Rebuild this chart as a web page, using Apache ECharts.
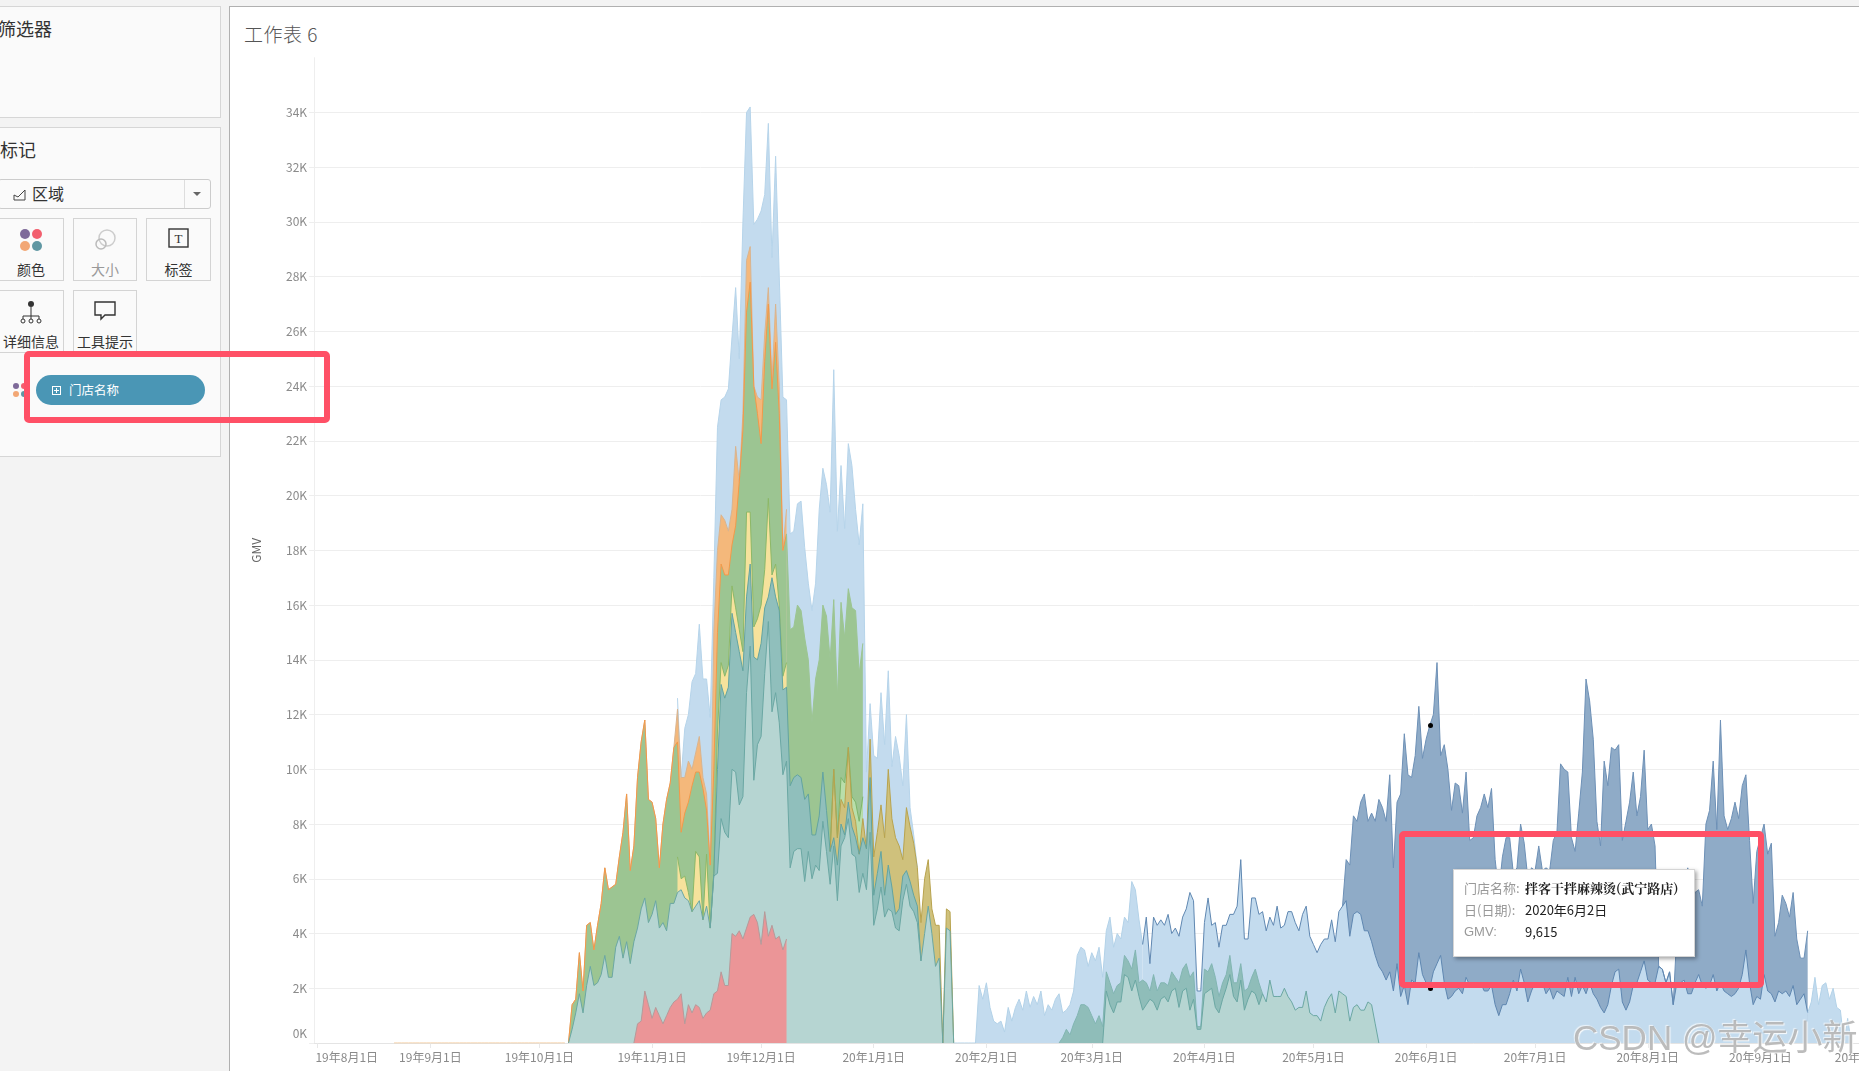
<!DOCTYPE html>
<html>
<head>
<meta charset="utf-8">
<title>工作表 6</title>
<script src="https://cdn.jsdelivr.net/npm/echarts@6/dist/echarts.min.js"></script>
<style>
html,body{margin:0;padding:0;width:1859px;height:1071px;overflow:hidden;background:#f3f3f3;font-family:"Noto Sans CJK SC","Noto Sans",sans-serif;color:#333}
.abs{position:absolute;box-sizing:border-box}
.panel{background:#fafafa;border:1px solid #d6d6d6;border-left:none}
.card{background:#fafafa;border:1px solid #d4d4d4;text-align:center;font-size:14px;color:#333}
.card span{position:absolute;left:-4px;right:-4px;bottom:2px;line-height:18px;white-space:nowrap}
.card svg{position:absolute;left:50%;top:9px;transform:translateX(-50%)}
#chart{position:absolute;left:0;top:0;width:1859px;height:1071px}
.red{border:6px solid #ff5066;border-radius:5px;z-index:5}
.tip{background:#fff;border:1px solid #d5d5d5;box-shadow:2px 2px 4px rgba(0,0,0,.35);z-index:4;font-size:13px}
.tip div{position:absolute;white-space:nowrap;line-height:16px}
.lb{color:#999;left:10px}.vl{color:#222;left:71px}
.dot{width:5px;height:5px;border-radius:50%;background:#000;z-index:3}
#wm{left:1573px;top:1016px;font-size:35px;line-height:44px;color:rgba(165,165,165,.75);text-shadow:1px 1px 1px rgba(255,255,255,.9),-1px -1px 1px rgba(255,255,255,.7);white-space:nowrap;z-index:6;font-family:"Liberation Sans","Noto Sans CJK SC",sans-serif}
</style>
</head>
<body>
<div class="abs panel" style="left:0;top:6px;width:221px;height:112px"></div>
<div class="abs" style="left:-2px;top:15px;font-size:18px">筛选器</div>
<div class="abs panel" style="left:0;top:127px;width:221px;height:330px"></div>
<div class="abs" style="left:0;top:136px;font-size:18px">标记</div>
<div class="abs" style="left:-2px;top:179px;width:213px;height:30px;border:1px solid #ccc;border-radius:3px;background:#fafafa"></div>
<div class="abs" style="left:184px;top:180px;width:1px;height:28px;background:#ddd"></div>
<div class="abs" style="left:193px;top:192px;width:0;height:0;border-left:4px solid transparent;border-right:4px solid transparent;border-top:4px solid #666"></div>
<svg class="abs" style="left:13px;top:188px" width="14" height="13"><path d="M1 12V7l4 2 7-7v10z" fill="none" stroke="#444"/></svg>
<div class="abs" style="left:32px;top:181px;font-size:16px;color:#333">区域</div>

<div class="abs card" style="left:-2px;top:218px;width:66px;height:63px"><svg width="24" height="24"><circle cx="6" cy="6" r="5" fill="#7e6a99"/><circle cx="18" cy="6" r="5" fill="#f25f6e"/><circle cx="6" cy="18" r="5" fill="#f2a775"/><circle cx="18" cy="18" r="5" fill="#5f97a3"/></svg><span>颜色</span></div>
<div class="abs card" style="left:73px;top:218px;width:64px;height:63px;color:#999"><svg width="24" height="24"><circle cx="14" cy="10" r="8" fill="none" stroke="#ccc" stroke-width="1.5"/><circle cx="8" cy="16" r="5" fill="none" stroke="#bbb" stroke-width="1.5"/></svg><span>大小</span></div>
<div class="abs card" style="left:146px;top:218px;width:65px;height:63px"><svg width="22" height="22"><rect x="1" y="1" width="19" height="18" fill="none" stroke="#333" stroke-width="1.4"/><text x="10.5" y="15" font-size="13" text-anchor="middle" fill="#333" font-family="Liberation Serif">T</text></svg><span>标签</span></div>
<div class="abs card" style="left:-2px;top:290px;width:66px;height:63px"><svg width="22" height="24"><circle cx="11" cy="4" r="3" fill="#333"/><path d="M11 7v8M3 19v-3h16v3M11 15v4" fill="none" stroke="#333"/><circle cx="3" cy="21" r="2" fill="none" stroke="#333"/><circle cx="11" cy="21" r="2" fill="none" stroke="#333"/><circle cx="19" cy="21" r="2" fill="none" stroke="#333"/></svg><span>详细信息</span></div>
<div class="abs card" style="left:73px;top:290px;width:64px;height:63px"><svg width="22" height="22"><path d="M1 2h20v13H11l-4 4v-4H1z" fill="none" stroke="#333" stroke-width="1.4"/></svg><span>工具提示</span></div>
<svg class="abs" style="left:12px;top:382px" width="16" height="16"><circle cx="4" cy="4" r="3" fill="#7e6a99"/><circle cx="12" cy="4" r="3" fill="#f25f6e"/><circle cx="4" cy="12" r="3" fill="#f2a775"/><circle cx="12" cy="12" r="3" fill="#5f97a3"/></svg>

<div class="abs" style="left:229px;top:6px;width:1640px;height:1070px;background:#fff;border-left:1.5px solid #b0b0b0;border-top:1.5px solid #b0b0b0"></div>
<div class="abs" style="left:244px;top:20px;font-size:19px;letter-spacing:.5px;color:#555;font-weight:300">工作表 6</div>

<div id="chart"></div>

<div class="abs" style="left:36px;top:375px;width:169px;height:30px;border-radius:15px;background:#4a96b5;color:#fff;font-size:12.5px;line-height:29px;padding-left:33px;z-index:2">门店名称
  <svg style="position:absolute;left:16px;top:11px" width="9" height="9"><rect x=".5" y=".5" width="8" height="8" fill="none" stroke="#fff"/><path d="M4.5 2v5M2 4.5h5" stroke="#fff"/></svg></div>
<div class="abs red" style="left:24px;top:351px;width:306px;height:72px"></div>

<div class="abs dot" style="left:1427.5px;top:722.5px"></div>
<div class="abs dot" style="left:1427.5px;top:985.5px"></div>
<div class="abs tip" style="left:1453px;top:869px;width:242px;height:88px">
  <div class="lb" style="top:10px">门店名称:</div><div class="vl" style="top:10px;left:71px;font-weight:bold;font-family:'Noto Serif CJK SC','Noto Sans CJK SC'">拌客干拌麻辣烫(武宁路店)</div>
  <div class="lb" style="top:32px">日(日期):</div><div class="vl" style="top:32px">2020年6月2日</div>
  <div class="lb" style="top:54px;font-family:'Liberation Sans'">GMV:</div><div class="vl" style="top:54px">9,615</div>
</div>
<div class="abs red" style="left:1399px;top:831px;width:365px;height:157px"></div>
<div class="abs" id="wm">CSDN @幸运小新</div>

<script>
// ---------- axis ----------
const firstDay = '2019-07-31';
const dayCount = 442;
const yTicks = [0,2,4,6,8,10,12,14,16,18,20,22,24,26,28,30,32,34];

// ---------- series values (GMV in thousands), daily, each from its start day (0 = 2019-08-01) ----------
const zeroStart = 21;
const zeroLine = [0,0,0,0,0,0,0,0,0,0,0,0,0,0,0,0,0,0,0,0,0,0,0,0,0,0,0,0,0,0,0,0,0,0,0,0,0,0,0,0,0,0,0,0,0,0,0,0];

const blueAStart = 99;
const blueA = [12.6,9.7,11.5,12,13.2,13.5,15.3,13.3,13.3,11.9,17,22.5,23.5,23.6,23.9,25.8,27.6,25,30,34,34.2,29.9,30.1,30.4,31,33.6,28.7,32.4,28,23.6,23.5,18.6,18.7,19.7,19.8,18.1,16.8,15.8,16.8,19.5,21,20.4,19.4,24.6,18.7,21.1,18.8,21.9,21.1,19.5,18.2,19.7,9.9,12.4,10.5,10.4,12.8,10.9,13.6,10.1,11.2,10.5,9.4,12,8.6,7.6,6.4];

const orangeStart = 69;
const orange = [0,1.4,1.6,3.3,1.9,4.3,4.4,3.4,4.3,5.1,6.4,5.6,5.7,5.8,6.8,7.7,9.1,6.3,7.2,9.7,11,11.8,8.9,8.8,8.2,6.4,8,8.9,9.5,10.8,12.2,9.7,9.7,10.3,10,10.6,11.2,9.7,9.1,6.5,15,18,19.3,19.1,18.7,19.5,21.8,20.5,23,28.6,29.1,24,23.6,23.5,25.9,27.6,24.2,27,24,18,19.5];

const greenAStart = 69;
const greenA = [0,1.4,1.6,3.3,1.9,4.3,4.4,3.4,4.3,5.1,6.4,5.6,5.7,5.8,6.8,7.7,9.1,6.3,7.2,9.7,11,11.8,8.9,8.8,8.2,6.4,8,8.9,9.5,10.8,11,7.7,8.4,8.8,9.4,9.9,9.9,9.3,8.5,6.5,10,15,17.5,17.1,17.1,18.2,18.9,20.5,22.4,26.7,27.8,24,23,21.9,24.9,27,23.9,25.6,23,18,18.6];
const greenBStart = 129;
const greenB = [18.6,15.1,15.2,16,15.8,14.8,14,11.7,13.3,14,16,15.6,14,16.2,12.6,16.1,14.8,16.6,15.9,15.8,13.5,14.6];

const paleGreenStart = 141;
const paleGreen = [7,10,7.5,9.7,9.5,10.8,9,8.8,8.1,9];

const goldStart = 141;
const gold = [7,10,7.5,8.9,8.6,10.8,8.6,8.1,6.9,8.2,7.1,11.1,6.8,7.7,8.7,7.5,10,8.2,7.5,7.2,6.7,8.6,7.9,7.3,6.4,4.4,6,6.7,4.9,4.3,4.3,0,4.9,4.8,0];

const yellowStart = 99;
const yellow = [6.8,6,6.1,5.5,4.8,7,6.8,4.5,6.9,4.2,6.2,11.4,13.9,13.4,13.8,16.7,15.9,15.1,14.3,19.4,19.4,15.2,15.5,16,17.3,19.9,17.1,17.5,16,13.4,13.9];

const tealStart = 108;
const teal = [4.2,6.2,10,13.1,12.6,13,15.7,15,14.3,13.6,16.3,17.5,14.1,14,14.6,15.9,16.3,17,16.3,15.8,12.9,13,9.4,9.7,9.8,9.7,8.9,9.1,7.6,7.6,8.3,9.9,8.5,7,7.5,6.5,8,7.6,8.8,7.9,7.5,6.9,7.5,7.1,9.7,5.4,6.2,7,5.4,6.5,5.7,4.7,4.9,6.1,6.3,5.9,5.4,5,3];

const paleTealStart = 69;
const paleTeal = [0,.5,1.1,1.8,1.1,2.1,2.8,2.1,2.2,2.5,3.2,2.4,2.4,3.5,3.9,3.1,3.7,2.9,3.7,4.2,4.9,5.3,4.4,4.7,5.2,4.2,4.4,4.1,5.1,5.1,5.5,5.6,5.3,5.2,4.8,5,5.2,4.5,5,4.2,6.1,6.2,8.2,7.7,7.5,10,9.9,8.7,9,12.8,14.5,9.6,10.9,11.2,13.5,15.4,12.1,12.8,11.7,9.8,10.3,6.4,7,7.1,7.1,5.9,7,6,6.5,6.3,8.1,7,5.8,7.2,5.2,7.2,7.5,8.2,6.9,6.8,5.5,6.2,5.6,7.7,4.3,4.9,5.7,4.6,4.9,4.8,4.2,4.1,5.2,5.8,5,4.8,4.4,3,4,5,4,2.8,3.1,0,4.2,4.1,0];

const redStart = 87;
const red = [0,.7,.8,1.9,1.4,.9,1.3,1,.7,1,1.3,1.5,1.6,1.8,.7,1.4,1.1,1.4,1.3,.9,1.1,1.2,1.8,1.9,2.6,2.1,2.1,4,3.9,4.1,3.8,4.2,4.6,4.7,4.4,3.6,4.8,3.9,4.3,3.8,3.9,3.4,3.8];

const steelStart = 282;
const steel = [5,6.7,6.5,8.3,8.1,8.8,9.1,8.1,8.4,8.1,8.9,8.6,8.1,9.8,6.4,8.8,9.1,11.3,9.8,9.7,10.5,12.3,10.4,11.1,11.6,12,13.9,10.5,10.9,10,8.5,9.5,9.4,8.4,9.9,7.4,7.5,8.3,8.6,9.1,8.6,9.3,6.7,5.5,6.8,7.5,7.5,6.2,6.4,8,7.3,6,6.4,6.3,7.2,6.3,6.4,6.3,7.4,7.7,10.2,10,9.9,7.5,7,8.4,9.9,13.3,12.5,11.1,8.1,7.2,10.3,9.4,10.8,10.7,10.9,7.4,8.1,8.8,9.9,8.3,9,10.7,7.8,8,7.2,2.8,2.7,2.2,2.6,1.4,4,4.5,5,6.4,5,5.5,5.6,5,8,8.5,10.3,7.8,11.8,8.3,7.8,8.2,8.8,8.2,9.4,9.8,7.4,5.1,7,7.5,8,6.9,7.3,3.9,4.4,5.4,5.1,4.6,5.5,3.8,3.1,3.1,4.1];

const blueBStart = 175;
const blueB = [0,0,0,0,0,0,0,2.1,1.6,2.2,1.3,.8,.7,.8,.4,1.3,.8,1.3,1.6,1.2,1.9,1.3,1.7,1.4,1.9,1,1.4,1.2,1.6,1.8,1.1,1.2,1.4,1.9,3.2,3.5,3.4,2.8,3.3,3,3.5,2.4,4.1,4.6,3.5,4,3.8,4.6,4.4,5.9,5.6,4.5,3.6];

const blueCStart = 227;
const blueC = [3.6,4.6,2.9,4.6,4.3,4.5,4.3,4.7,4,4.2,3.9,4.6,4.9,5.5,5.2,1.9,1.9,4.4,5.3,4.3,4.4,3.5,4.3,4.3,4.7,4.7,5,6.7,3.8,3.8,5.3,5.3,4.7,4.8,4.1,4.6,4.3,5,4.2,4.3,4.8,4.8,4.4,4.1,4.7,5,3.9,3.6,3.3,3.6,3.8,3.8,4.5,3.7,4.8,5,5.2,3.9,4.7,4.8,4.7,4.1,4.1,3.7,3.2,2.8,2.6,2.3,2.6,1.9,2.9,1.7,2.1,1.4,2.3,2.2,
3.3,2.5,2.2,2,2.6,2.9,3.2,2.2,1.6,1.7,1.9,2,1.8,2.4,2.1,2.2,2.2,2.2,1.9,1.9,2.1,1.4,1,1.4,1.4,1.8,2.3,1.9,2.7,2.2,1.5,1.9,2.2,2.2,2.2,1.8,2,1.6,1.9,1.8,1.7,2.4,1.7,2.4,1.8,2.1,1.8,2.2,1.8,1.6,1.3,1.1,1.4,2.1,2.6,2.7,1.5,1.2,1.5,2.1,2.2,2.6,3,2.3,2.2,2.2,2.8,2.7,2.2,2.6,1.4,2.2,2.2,2.3,1.8,1.8,2.2,2.5,2.1,2,2.1,2.5,1.9,2.2,1.9,1.8,1.7,1.8,2,2.5,3.4,2.2,1.4,1.7,1.6,2.5,1.9,1.8,1.5,1.9,1.8,1.9,1.7,2.1,1.4,1.6,1.8,1.1];

const blueDStart = 410;
const blueD = [1.1,1.5,2.4,1.4,2.1,2.2,1.6,2,1.3,1.2,0,.9,0];

const sageStart = 204;
const sage = [0,.2,.5,.3,.7,1,1.4,1.4,1.3,1,.7,1,.6,2.6,2.2,1.8,2.1,2.2,3.2,3,2.7,3.4,2.2,2.3,2.2,1.9,2.5,1.9,2.2,2.2,2.1,2.6,2.4,2.2,2.7,2.9,2.4,2.6,.6,.6,2.7,2.6,2.9,2.4,1.7,2.2,2.5,3.2,2.2,2.2,2.9,1.9,2,2.4,2.7,2.2,1.8];

const mintStart = 216;
const mint = [0,1.9,1.4,1.1,1.5,1.5,2.5,2.4,1.9,2.3,1.7,1.2,1.4,1.6,1.5,1.2,1.6,1.7,1.5,1.9,2,1.3,1.9,2,1.2,1.6,.5,.5,1.8,1.9,2,1.3,1.1,1.6,2,2.5,1.7,1.5,2.3,1.2,1.6,1.9,1.8,1.4,1.8,1.5,2.3,1.7,1.7,1.7,2,1.7,1.5,1.2,1.3,1.3,1.9,1.1,1,1,.8,1.3,1.6,1.8,1.1,1.9,1.8,1.7,.8,1.3,1.4,1.2,1.2,1.5,1.4,.7,0];

// ---------- build ----------
const categories = [];
(function(){
  const t0 = Date.UTC(2019,6,31);
  for (let i=0;i<dayCount;i++) categories.push(new Date(t0+i*864e5));
})();
const isMonthStart = i => categories[i].getUTCDate()===1;
const labelOf = d => (d.getUTCFullYear()%100)+'年'+(d.getUTCMonth()+1)+'月'+d.getUTCDate()+'日';

function place(start, values){
  const out = new Array(dayCount).fill(null);
  values.forEach((v,i)=>{ out[start+1+i]=v; });
  return out;
}
function area(name,start,values,fill,line,lw){
  return {name,type:'line',data:place(start,values),symbol:'none',silent:true,animation:false,
    connectNulls:false,showSymbol:false,smooth:false,
    lineStyle:{color:line||fill,width:lw===undefined?1:lw},
    itemStyle:{color:fill},
    areaStyle:{color:fill,opacity:1}};
}

const chart = echarts.init(document.getElementById('chart'),null,{renderer:'canvas'});
chart.setOption({
  backgroundColor:'transparent',
  animation:false,
  tooltip:{show:false},
  grid:{left:314.1,top:57.7,width:3.634*(dayCount-1),height:985.3,containLabel:false,outerBoundsMode:'none'},
  xAxis:{type:'category',boundaryGap:false,data:categories.map(labelOf),
    axisLine:{show:true,lineStyle:{color:'#e4e4e4'}},
    axisTick:{show:true,length:5,lineStyle:{color:'#e8e8e8'},interval:(i)=>isMonthStart(i)},
    splitLine:{show:false},
    axisLabel:{interval:(i)=>isMonthStart(i),color:'#8a8a8a',fontSize:12,margin:8,
      fontFamily:'"Noto Sans CJK SC",sans-serif',hideOverlap:false,
      formatter:(v,i)=> i<=1 ? '{first|'+v+'}' : v,
      rich:{first:{padding:[0,0,0,58],color:'#8a8a8a',fontSize:12,fontFamily:'"Noto Sans CJK SC",sans-serif'}}}},
  yAxis:{type:'value',min:0,max:36,interval:2,
    name:'GMV',nameLocation:'middle',nameRotate:90,nameGap:52,
    nameTextStyle:{color:'#666',fontSize:12,fontFamily:'"Noto Sans CJK SC",sans-serif'},
    axisLine:{show:true,lineStyle:{color:'#eeeeee'}},
    axisTick:{show:true,length:5,lineStyle:{color:'#eeeeee'}},
    splitLine:{show:true,showMaxLine:false,lineStyle:{color:'#eeeeee',width:1}},
    axisLabel:{color:'#8a8a8a',fontSize:12,margin:7,showMaxLabel:false,
      fontFamily:'"Noto Sans CJK SC",sans-serif',
      formatter:v=> v===0 ? '{zero|0K}' : (yTicks.includes(v)? v+'K':''),
      rich:{zero:{padding:[0,0,20,0],color:'#8a8a8a',fontSize:12,fontFamily:'"Noto Sans CJK SC",sans-serif'}}}},
  series:[
    area('零线',zeroStart,zeroLine,'#f2c9a0','#f3c795'),
    area('门店A',blueAStart,blueA,'#c3dbee','#b6d4ea'),
    area('门店B',orangeStart,orange,'#f4b87b','#d9b48f'),
    area('门店C',greenAStart,greenA,'#9cc592','#f2994a'),
    area('门店C ',greenBStart,greenB,'#9cc592','#9cc592'),
    area('门店D',paleGreenStart,paleGreen,'#b9deaa','#7db56c'),
    area('门店E',goldStart,gold,'#cfc17c','#b8a34e'),
    area('门店F',yellowStart,yellow,'#f6e29c','#8cb868'),
    area('门店G',tealStart,teal,'#90bfbc','#63a4a1'),
    area('门店H',paleTealStart,paleTeal,'#b6d5d2','#6ba7a3'),
    area('门店I',redStart,red,'#eb9597','#b59a9a'),
    area('门店J',steelStart,steel,'#8fabc7','#6d90b6'),
    area('门店K',blueBStart,blueB,'#c3dbee','#b3d2e8'),
    area('门店K ',blueCStart,blueC,'#c3dbee','#5f87b1'),
    area('门店K  ',blueDStart,blueD,'#c3dbee','#b3d2e8'),
    area('门店L',sageStart,sage,'#8fbdb9','#82b5b2'),
    area('门店M',mintStart,mint,'#b6d5d2','#6ba7a3')
  ]
});
</script>
</body>
</html>
